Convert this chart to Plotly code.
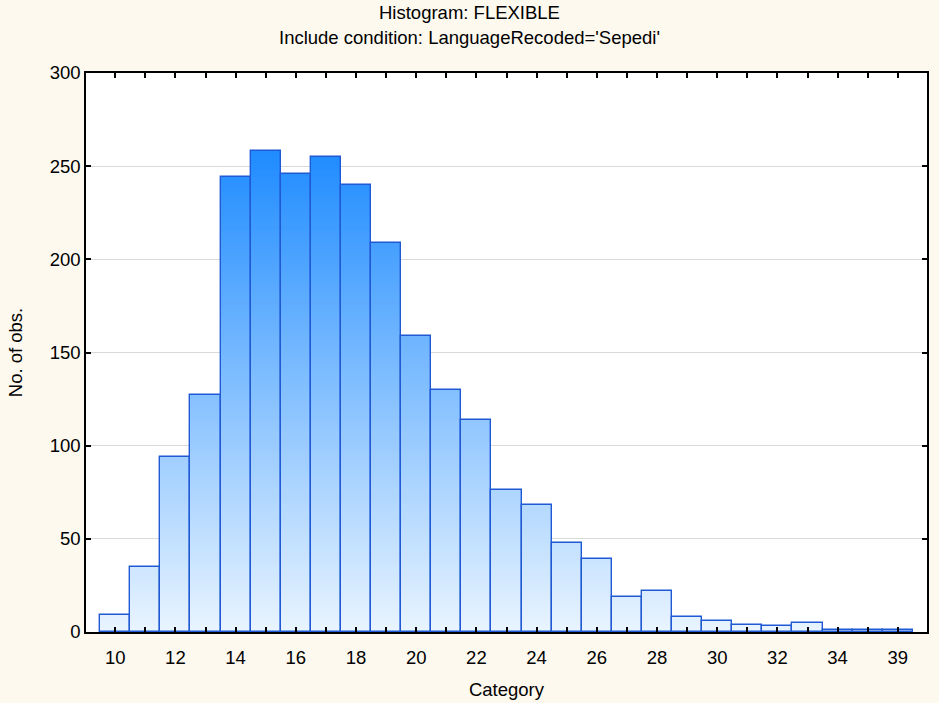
import plotly.graph_objects as go

categories = [str(c) for c in list(range(10, 36)) + [39]]
counts = [9, 35, 94, 127, 244, 258, 246, 255, 240, 209, 159, 130, 114, 76, 68,
          48, 39, 19, 22, 8, 6, 4, 3, 5, 1, 1, 1]
tick_labels = [c if i % 2 == 0 else "" for i, c in enumerate(categories)]

Y_MAX = 300
BAND = 2
TOP_COL = (28, 138, 255)
BOT_COL = (233, 244, 255)
GRAD_TOP = 262
PAPER = "#fdf9ef"
W, H = 939, 703
ML, MR, MT, MB = 86, 12, 73, 71
TITLE_SIZE = 18.5
TICK_SIZE = 18.5


def band_color(level):
    t = min(max(level / GRAD_TOP, 0), 1)
    r = round(BOT_COL[0] + (TOP_COL[0] - BOT_COL[0]) * t)
    g = round(BOT_COL[1] + (TOP_COL[1] - BOT_COL[1]) * t)
    b = round(BOT_COL[2] + (TOP_COL[2] - BOT_COL[2]) * t)
    return f"rgb({r},{g},{b})"


fig = go.Figure()

max_count = max(counts)
lo = 0
while lo < max_count:
    heights = [max(min(v - lo, BAND), 0) for v in counts]
    fig.add_trace(go.Bar(
        x=categories, y=heights, base=[lo] * len(counts),
        marker=dict(color=band_color(lo + BAND / 2), line=dict(width=0)),
        hoverinfo="skip", showlegend=False,
    ))
    lo += BAND

fig.add_trace(go.Bar(
    x=categories, y=counts,
    marker=dict(color="rgba(0,0,0,0)", line=dict(color="#1f5ad4", width=1.4)),
    showlegend=False,
))

plot_h = H - MT - MB
plot_w = W - ML - MR
title_x = (W / 2 - ML) / plot_w
fig.update_layout(
    width=W, height=H,
    paper_bgcolor=PAPER, plot_bgcolor="white",
    margin=dict(l=ML, r=MR, t=MT, b=MB),
    barmode="overlay", bargap=0,
    font=dict(family="Liberation Sans, Arial, sans-serif", size=TITLE_SIZE, color="black"),
    annotations=[
        dict(text="Histogram: FLEXIBLE", x=title_x, y=1 + (MT - 12) / plot_h,
             yanchor="middle", xref="paper", yref="paper", showarrow=False,
             font=dict(size=TITLE_SIZE)),
        dict(text="Include condition: LanguageRecoded='Sepedi'", x=title_x,
             y=1 + (MT - 37) / plot_h, yanchor="middle", xref="paper", yref="paper",
             showarrow=False, font=dict(size=TITLE_SIZE)),
    ],
)

fig.update_xaxes(
    type="category", range=[-0.97, 26.97], automargin=False,
    tickmode="array", tickvals=categories, ticktext=tick_labels,
    ticks="inside", ticklen=5, tickcolor="black", tickwidth=1.5,
    showline=True, linecolor="black", linewidth=1.5, mirror="allticks",
    showgrid=False, tickfont=dict(size=TICK_SIZE), ticklabelstandoff=8,
    title=dict(text="Category", font=dict(size=TITLE_SIZE), standoff=16),
)
fig.update_yaxes(
    range=[0, Y_MAX], automargin=False,
    tickmode="array", tickvals=[0, 50, 100, 150, 200, 250, 300],
    ticks="inside", ticklen=5, tickcolor="black", tickwidth=1.5,
    showline=True, linecolor="black", linewidth=1.5, mirror="allticks",
    showgrid=True, gridcolor="#d9d9d9", gridwidth=1.2, zeroline=False,
    tickfont=dict(size=TICK_SIZE),
    title=dict(text="No. of obs.", font=dict(size=TITLE_SIZE), standoff=22),
)

fig.write_html(
    "out.html",
    config={"displayModeBar": False},
    post_script=(
        "document.body.style.margin='0';"
        "document.body.style.padding='0';"
        "document.body.style.overflow='hidden';"
        f"document.body.style.background='{PAPER}';"
    ),
)
